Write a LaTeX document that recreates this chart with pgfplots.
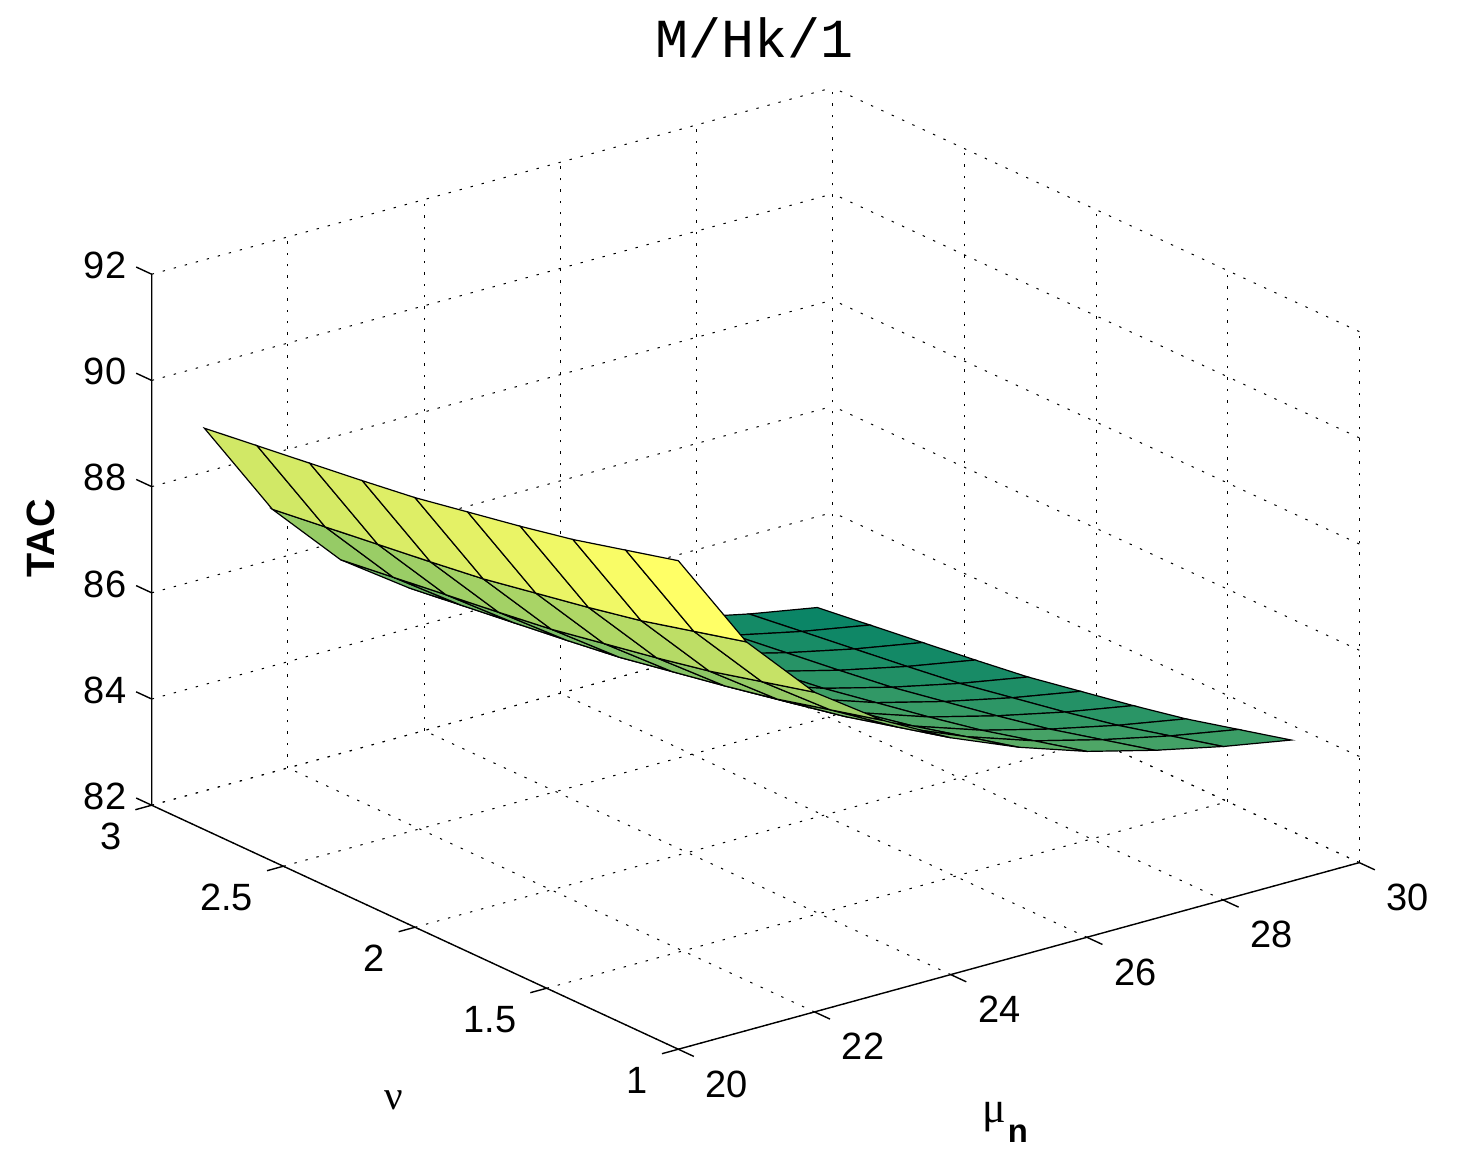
\documentclass[border=0pt]{standalone}
\usepackage{pgfplots}
\pgfplotsset{compat=1.18}
\usepackage{fontspec}
\setmainfont{Liberation Sans}
\newfontfamily\monofont{Liberation Mono}
\newfontfamily\seriffont{Liberation Serif}
\begin{document}
\begin{tikzpicture}
\begin{axis}[
  x={(34.05pt,9.33pt)}, y={(-131.65pt,61pt)}, z={(0pt,26.55pt)},
  disabledatascaling,
  xmin=20,xmax=30,ymin=1,ymax=3,zmin=82,zmax=92,
  xtick={20,22,24,26,28,30}, ytick={1,1.5,2,2.5,3}, ztick={82,84,86,88,90,92},
  grid=major,
  major grid style={black, line width=0.5pt, dash pattern=on 1.2pt off 4.5pt},
  axis line style={draw=none},
  tick style={draw=none},
  tick align=outside,
  major tick length=8pt,
  ticklabel style={font=\fontsize{19}{21}\selectfont},
  xticklabel style={anchor=center, xshift=17pt, yshift=-14pt},
  yticklabel style={anchor=east, xshift=-4pt, yshift=-13.5pt},
  zticklabel style={anchor=east, xshift=-2pt, yshift=1pt},
  /pgf/number format/assume math mode=true,
  colormap={summer}{rgb=(0,0.5,0.4) rgb=(1,1,0.4)},
  clip=false,
]
\addplot3[surf, shader=flat corner, shader=faceted, faceted color=black, line width=0.6pt, z buffer=sort, mesh/cols=10] coordinates {
(20,1.0,91.20) (21,1.0,89.32) (22,1.0,88.02) (23,1.0,87.14) (24,1.0,86.46) (25,1.0,85.93) (26,1.0,85.50) (27,1.0,85.17) (28,1.0,84.89) (29,1.0,84.66)
(20,1.2,90.94) (21,1.2,89.06) (22,1.2,87.76) (23,1.2,86.88) (24,1.2,86.20) (25,1.2,85.67) (26,1.2,85.24) (27,1.2,84.91) (28,1.2,84.63) (29,1.2,84.40)
(20,1.4,90.68) (21,1.4,88.80) (22,1.4,87.50) (23,1.4,86.62) (24,1.4,85.94) (25,1.4,85.41) (26,1.4,84.98) (27,1.4,84.65) (28,1.4,84.37) (29,1.4,84.14)
(20,1.6,90.47) (21,1.6,88.59) (22,1.6,87.29) (23,1.6,86.41) (24,1.6,85.73) (25,1.6,85.20) (26,1.6,84.77) (27,1.6,84.44) (28,1.6,84.16) (29,1.6,83.93)
(20,1.8,90.28) (21,1.8,88.40) (22,1.8,87.10) (23,1.8,86.22) (24,1.8,85.54) (25,1.8,85.01) (26,1.8,84.58) (27,1.8,84.25) (28,1.8,83.97) (29,1.8,83.74)
(20,2.0,90.09) (21,2.0,88.21) (22,2.0,86.91) (23,2.0,86.03) (24,2.0,85.35) (25,2.0,84.82) (26,2.0,84.39) (27,2.0,84.06) (28,2.0,83.78) (29,2.0,83.55)
(20,2.2,89.95) (21,2.2,88.07) (22,2.2,86.77) (23,2.2,85.89) (24,2.2,85.21) (25,2.2,84.68) (26,2.2,84.25) (27,2.2,83.92) (28,2.2,83.64) (29,2.2,83.41)
(20,2.4,89.82) (21,2.4,87.94) (22,2.4,86.64) (23,2.4,85.76) (24,2.4,85.08) (25,2.4,84.55) (26,2.4,84.12) (27,2.4,83.79) (28,2.4,83.51) (29,2.4,83.28)
(20,2.6,89.69) (21,2.6,87.81) (22,2.6,86.51) (23,2.6,85.63) (24,2.6,84.95) (25,2.6,84.42) (26,2.6,83.99) (27,2.6,83.66) (28,2.6,83.38) (29,2.6,83.15)
(20,2.8,89.56) (21,2.8,87.68) (22,2.8,86.38) (23,2.8,85.50) (24,2.8,84.82) (25,2.8,84.29) (26,2.8,83.86) (27,2.8,83.53) (28,2.8,83.25) (29,2.8,83.02)
};
\draw[black, line width=0.7pt] (axis cs:20,3,92) -- (axis cs:20,3,82) -- (axis cs:20,1,82) -- (axis cs:30,1,82);
\pgfplotsinvokeforeach{20,22,24,26,28,30}{\draw[black, line width=0.7pt] (axis cs:#1,1,82) -- (axis cs:#1,0.941,82);}
\pgfplotsinvokeforeach{1,1.5,2,2.5,3}{\draw[black, line width=0.7pt] (axis cs:20,#1,82) -- (axis cs:19.76,#1,82);}
\pgfplotsinvokeforeach{82,84,86,88,90,92}{\draw[black, line width=0.7pt] (axis cs:20,3,#1) -- (axis cs:20,3.059,#1);}
\coordinate (O) at (axis cs:20,1,82);
\end{axis}
\pgfresetboundingbox
\begin{scope}[shift={(O)}, xshift=-339.15pt, yshift=524.65pt, x=0.5pt, y=-0.5pt]
\path[use as bounding box] (0,0) rectangle (1462,1176);
\node[font=\monofont\fontsize{27.5}{30}\selectfont, anchor=base, inner sep=0pt] at (755,58) {M/Hk/1};
\node[font=\bfseries\fontsize{19.75}{21}\selectfont, rotate=90, inner sep=0pt] at (41,538.5) {TAC};
\node[font=\seriffont\fontsize{20.5}{22}\selectfont, anchor=base, inner sep=0pt] at (394,1110) {ν};
\node[font=\seriffont\fontsize{22}{24}\selectfont, anchor=base, inner sep=0pt] at (994,1123) {μ};
\node[font=\bfseries\fontsize{16.4}{18}\selectfont, anchor=base, inner sep=0pt] at (1018,1143) {n};
\end{scope}
\end{tikzpicture}
\end{document}
